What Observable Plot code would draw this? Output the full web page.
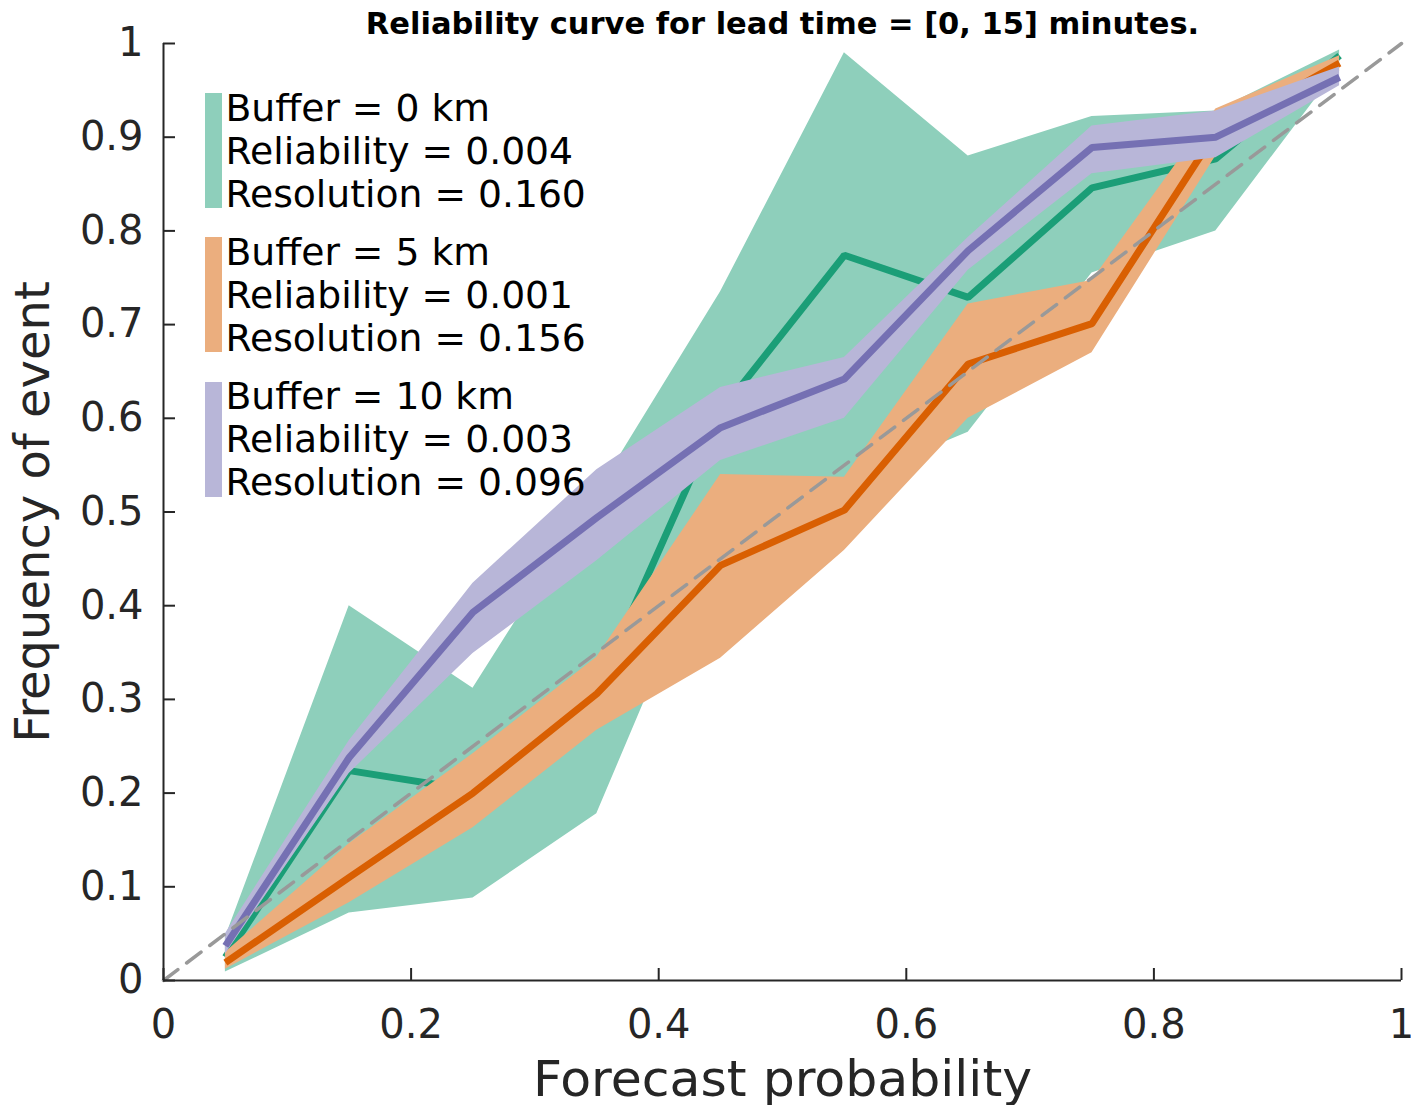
<!DOCTYPE html>
<html>
<head>
<meta charset="utf-8">
<script src="https://cdn.jsdelivr.net/npm/d3@7"></script>
<script src="https://cdn.jsdelivr.net/npm/@observablehq/plot@0.6"></script>
<style>
  html, body { margin: 0; padding: 0; background: #fff; }
  #chart svg { display: block; }
</style>
</head>
<body>
<div id="chart"></div>
<script>
// Forecast probability bin centres
const prob = [0.05, 0.15, 0.25, 0.35, 0.45, 0.55, 0.65, 0.75, 0.85, 0.95];

// Observed frequency and confidence band, buffer = 0 km
const buf0   = [0.025, 0.224, 0.203, 0.310, 0.607, 0.774, 0.729, 0.846, 0.877, 0.987];
const buf0Lo = [0.009, 0.072, 0.088, 0.178, 0.490, 0.530, 0.585, 0.755, 0.800, 0.975];
const buf0Hi = [0.046, 0.400, 0.312, 0.520, 0.735, 0.990, 0.880, 0.922, 0.928, 0.993];

// Buffer = 5 km
const buf5   = [0.019, 0.110, 0.200, 0.306, 0.443, 0.502, 0.658, 0.701, 0.905, 0.979];
const buf5Lo = [0.012, 0.083, 0.163, 0.267, 0.344, 0.459, 0.600, 0.670, 0.880, 0.970];
const buf5Hi = [0.030, 0.146, 0.242, 0.345, 0.540, 0.537, 0.722, 0.747, 0.930, 0.987];

// Buffer = 10 km
const buf10   = [0.037, 0.238, 0.393, 0.494, 0.590, 0.642, 0.779, 0.889, 0.900, 0.964];
const buf10Lo = [0.028, 0.221, 0.349, 0.448, 0.555, 0.600, 0.758, 0.861, 0.878, 0.955];
const buf10Hi = [0.050, 0.256, 0.424, 0.545, 0.633, 0.665, 0.793, 0.912, 0.928, 0.975];

// Legend entries
const buffers     = ["0", "5", "10"];
const reliability = ["0.004", "0.001", "0.003"];
const resolution  = ["0.160", "0.156", "0.096"];

// Axis ticks
const xTicks = [0, 0.2, 0.4, 0.6, 0.8, 1];
const yTicks = [0, 0.1, 0.2, 0.3, 0.4, 0.5, 0.6, 0.7, 0.8, 0.9, 1];
const diagonal = [0, 1];

const lineColors = ["#1b9e77", "#d95f02", "#7570b3"];
const bandColors = ["#8ecfbb", "#ebae7e", "#b8b6d8"];
const ink = "#262626";

const series = [
  {mid: buf0, lo: buf0Lo, hi: buf0Hi},
  {mid: buf5, lo: buf5Lo, hi: buf5Hi},
  {mid: buf10, lo: buf10Lo, hi: buf10Hi}
].map((s, k) => prob.map((p, i) => ({p, mid: s.mid[i], lo: s.lo[i], hi: s.hi[i], k})));

const W = 1411, H = 1105;
const mL = 163, mR = 10, mT = 43, mB = 125;
const innerH = H - mT - mB;
const tickLen = 12;

// Layered: band then line for each buffer, so later buffers sit on top
const layers = series.flatMap((rows, k) => [
  Plot.areaY(rows, {x: "p", y1: "lo", y2: "hi", fill: bandColors[k], curve: "linear"}),
  Plot.line(rows, {x: "p", y: "mid", stroke: lineColors[k], strokeWidth: 7, strokeLinejoin: "miter", strokeLinecap: "butt"})
]);

// Legend: colour swatches drawn in frame pixels
const legendSwatches = () => {
  const g = d3.create("svg:g");
  const tops = [93, 237, 382];
  bandColors.forEach((c, k) => {
    g.append("rect")
      .attr("x", 205).attr("y", tops[k])
      .attr("width", 17).attr("height", 115)
      .attr("fill", c);
  });
  return g.node();
};

const legendLines = buffers.flatMap((b, k) => [
  {t: `Buffer = ${b} km`, line: k * 3},
  {t: `Reliability = ${reliability[k]}`, line: k * 3 + 1},
  {t: `Resolution = ${resolution[k]}`, line: k * 3 + 2}
]);
const baselines = [120.5, 163.5, 206.5, 264, 307, 350, 408, 451, 494];

const chart = Plot.plot({
  width: W,
  height: H,
  marginLeft: mL,
  marginRight: mR,
  marginTop: mT,
  marginBottom: mB,
  style: {fontFamily: "DejaVu Sans", color: ink, background: "#fff"},
  x: {domain: [0, 1], axis: null},
  y: {domain: [0, 1], axis: null},
  marks: [
    ...layers,
    // perfect-reliability diagonal
    Plot.line(diagonal, {x: d => d, y: d => d, stroke: "#999999", strokeWidth: 3.5, strokeDasharray: "18,11"}),
    // axis lines
    Plot.ruleX([0], {stroke: ink, strokeWidth: 2}),
    Plot.ruleY([0], {stroke: ink, strokeWidth: 2}),
    // inward ticks
    Plot.tickX(xTicks, {x: d => d, insetTop: innerH - tickLen, stroke: ink, strokeWidth: 2}),
    Plot.tickY(yTicks, {y: d => d, insetRight: (W - mL - mR) - tickLen, stroke: ink, strokeWidth: 2}),
    // tick labels
    Plot.text(xTicks, {x: d => d, frameAnchor: "bottom", dy: 45, text: d => d3.format("~g")(d), fontSize: 40, fill: ink, lineAnchor: "middle"}),
    Plot.text(yTicks, {y: d => d, frameAnchor: "left", dx: -20, text: d => d3.format("~g")(d), fontSize: 40, fill: ink, textAnchor: "end", lineAnchor: "middle"}),
    // axis titles
    Plot.text(["Forecast probability"], {frameAnchor: "bottom", dy: 115, text: d => d, fontSize: 50.5, fill: ink, lineAnchor: "bottom"}),
    Plot.text(["Frequency of event"], {frameAnchor: "left", dx: -(mL - 33), rotate: -90, text: d => d, fontSize: 48, fill: ink, textAnchor: "middle", lineAnchor: "middle"}),
    // title
    Plot.text(["Reliability curve for lead time = [0, 15] minutes."], {frameAnchor: "top", dy: -10, text: d => d, fontSize: 30.5, fontWeight: "bold", fill: "#000", lineAnchor: "bottom"}),
    // legend
    legendSwatches,
    Plot.text(legendLines, {frameAnchor: "top-left", text: "t", fontSize: 37.7, fill: "#000", textAnchor: "start", lineAnchor: "bottom",
      render(index, scales, values, dim, ctx, next) {
        const g = next(index, scales, values, dim, ctx);
        d3.select(g).selectAll("text").attr("transform", (_, j) => `translate(${225},${baselines[legendLines[index[j]].line]})`);
        return g;
      }
    })
  ]
});

document.getElementById("chart").appendChild(chart);
</script>
</body>
</html>
